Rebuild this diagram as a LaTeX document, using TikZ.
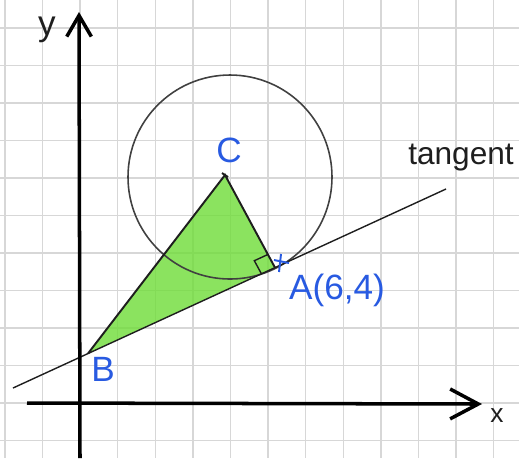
\documentclass[tikz,border=0pt]{standalone}
\usepackage{fontspec}
\setmainfont{Liberation Sans}
\usetikzlibrary{arrows.meta,calc}
\definecolor{gridc}{RGB}{215,215,215}
\definecolor{penblue}{RGB}{40,90,225}
\definecolor{fillgreen}{RGB}{110,220,55}
\definecolor{ink}{RGB}{30,30,30}
\begin{document}
\begin{tikzpicture}[x=0.02cm,y=-0.02cm,
  gridline/.style={draw=gridc,line width=0.8pt},
  axisline/.style={draw=black,line width=2pt},
  thinline/.style={draw=ink,line width=0.8pt},
  sideline/.style={draw=ink,line width=1.1pt},
  circline/.style={draw=ink!85,line width=0.9pt},
  bluelabel/.style={text=penblue,inner sep=0pt,font=\fontsize{20}{24}\selectfont},
  blacklabel/.style={text=ink,inner sep=0pt,font=\fontsize{20}{24}\selectfont},
  bluemark/.style={draw=penblue,line width=1.1pt}
]
\useasboundingbox (0,0) rectangle (519,458);
\clip (0,0) rectangle (519,458);
% grid
\foreach \k in {-2,...,11} \draw[gridline] ({80+37.6*\k},0) -- ({80+37.6*\k},458);
\foreach \k in {-1,...,10} \draw[gridline] (0,{403-37.5*\k}) -- (519,{403-37.5*\k});
% points
\coordinate (T1) at (13,388);
\coordinate (T2) at (446,189);
\coordinate (C) at (225,175);
\coordinate (B) at (88,353.5);
\coordinate (A) at (275,267.6);
\coordinate (Ctr) at (230,177);
\coordinate (Ax) at (282,262);
\coordinate (xs) at (27,403);
\coordinate (xe) at (482,404);
\coordinate (ys) at (80,458);
\coordinate (ye) at (79,12);
% shaded triangle
\fill[fillgreen,opacity=0.8] (C) -- (B) -- (A) -- cycle;
\begin{scope}
  \clip (C) -- (B) -- (A) -- cycle;
  \foreach \t in {0,7,...,300}
    \draw[white,opacity=0.35,line width=1.6pt] ({40+\t},{420-\t*0.45}) -- ++(170,-100);
\end{scope}
% circle
\draw[circline] (Ctr) circle[radius=102];
% tangent line
\draw[thinline] (T1) -- (T2);
% triangle sides
\draw[sideline] (B) -- (C) -- (A);
% right angle mark
\coordinate (R1) at ($(A)!8.5pt!(B)$);
\coordinate (R2) at ($(A)!8.5pt!(C)$);
\coordinate (R3) at ($(R1)+(R2)-(A)$);
\draw[thinline] (R1) -- (R3) -- (R2);
% small mark at C
\draw[sideline] ($(C)+(-3,-2)$) -- ($(C)+(3,2)$);
% cross at A
\draw[bluemark] ($(Ax)+(-8,-2)$) -- ($(Ax)+(7,1)$);
\draw[bluemark] ($(Ax)+(-1,-8)$) -- ($(Ax)+(-3,10)$);
% axes
\draw[axisline,-{Straight Barb[length=16pt,width=17pt,line width=2pt]}] (xs) -- (xe);
\draw[axisline,-{Straight Barb[length=12pt,width=14pt,line width=2pt]}] (ys) -- (ye);
% labels
\node[blacklabel] (ylab) at (47,30) {y};
\node[blacklabel,font=\fontsize{15}{18}\selectfont] (xlab) at (497,416) {x};
\node[bluelabel] (Clab) at (229,150) {C};
\node[bluelabel] (Alab) at (337,290) {A(6,4)};
\node[bluelabel] (Blab) at (103,369) {B};
\node[blacklabel,font=\fontsize{18}{22}\selectfont] (tlab) at (461,158) {tangent};
\end{tikzpicture}
\end{document}
